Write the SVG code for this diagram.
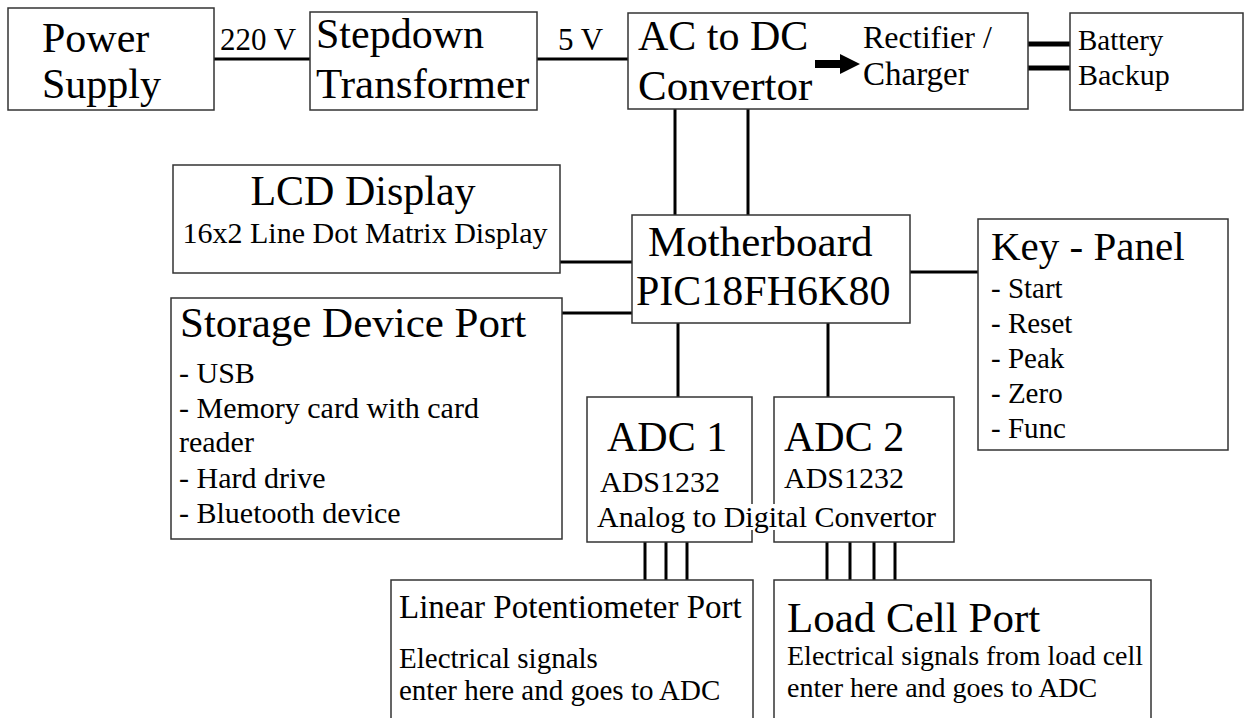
<svg xmlns="http://www.w3.org/2000/svg" width="1246" height="718" viewBox="0 0 1246 718">
<style>
.box{fill:#fff;stroke:#333;stroke-width:1.5}
text{font-family:"Liberation Serif","Times New Roman",serif;fill:#000}
.c{stroke:#000;stroke-width:3;fill:none}
.thick{stroke:#000;stroke-width:5;fill:none}
</style>
<rect width="1246" height="718" fill="#fff"/>
<g id="connectors">
<line class="c" x1="214" y1="59" x2="310" y2="59"/>
<line class="c" x1="537" y1="59" x2="628" y2="59"/>
<line class="thick" x1="1028" y1="44" x2="1070" y2="44"/>
<line class="thick" x1="1028" y1="68" x2="1070" y2="68"/>
<line class="c" x1="675" y1="109" x2="675" y2="215"/>
<line class="c" x1="748" y1="109" x2="748" y2="215"/>
<line class="c" x1="560" y1="262" x2="632" y2="262"/>
<line class="c" x1="562" y1="313" x2="632" y2="313"/>
<line class="c" x1="910" y1="272" x2="978" y2="272"/>
<line class="c" x1="678" y1="323" x2="678" y2="397"/>
<line class="c" x1="828" y1="323" x2="828" y2="397"/>
<line class="c" x1="645" y1="542" x2="645" y2="580"/>
<line class="c" x1="666" y1="542" x2="666" y2="580"/>
<line class="c" x1="687" y1="542" x2="687" y2="580"/>
<line class="c" x1="827" y1="542" x2="827" y2="580"/>
<line class="c" x1="850" y1="542" x2="850" y2="580"/>
<line class="c" x1="874" y1="542" x2="874" y2="580"/>
<line class="c" x1="895" y1="542" x2="895" y2="580"/>
</g>
<g id="label-220v"><text x="220" y="50" font-size="31">220 V</text></g>
<g id="label-5v"><text x="558" y="50" font-size="31">5 V</text></g>
<g id="power-supply">
<rect class="box" x="8" y="8" width="206" height="102"/>
<text x="42" y="52" font-size="42">Power</text>
<text x="42" y="98" font-size="42">Supply</text>
</g>
<g id="stepdown">
<rect class="box" x="310" y="12" width="227" height="98"/>
<text x="316" y="48" font-size="42">Stepdown</text>
<text x="316" y="98" font-size="43">Transformer</text>
</g>
<g id="acdc">
<rect class="box" x="628" y="13" width="400" height="96"/>
<text x="638" y="50" font-size="42">AC to DC</text>
<text x="638" y="100" font-size="43">Convertor</text>
<path d="M815 60 H840 V54 L860 64 L840 74 V68 H815 Z" fill="#000"/>
<text x="863" y="48" font-size="32">Rectifier /</text>
<text x="863" y="85" font-size="33">Charger</text>
</g>
<g id="battery">
<rect class="box" x="1070" y="13" width="173" height="97"/>
<text x="1078" y="50" font-size="29">Battery</text>
<text x="1078" y="85" font-size="30">Backup</text>
</g>
<g id="lcd">
<rect class="box" x="173" y="165" width="387" height="108"/>
<text x="363" y="205" font-size="42" text-anchor="middle">LCD Display</text>
<text x="365" y="243" font-size="30" text-anchor="middle">16x2 Line Dot Matrix Display</text>
</g>
<g id="motherboard">
<rect class="box" x="632" y="215" width="278" height="108"/>
<text x="648" y="256" font-size="43">Motherboard</text>
<text x="636" y="305" font-size="42">PIC18FH6K80</text>
</g>
<g id="keypanel">
<rect class="box" x="978" y="219" width="250" height="231"/>
<text x="991" y="260" font-size="41">Key - Panel</text>
<text x="991" y="298" font-size="29">- Start</text>
<text x="991" y="333" font-size="29">- Reset</text>
<text x="991" y="368" font-size="29">- Peak</text>
<text x="991" y="403" font-size="29">- Zero</text>
<text x="991" y="438" font-size="29">- Func</text>
</g>
<g id="storage">
<rect class="box" x="171" y="298" width="391" height="241"/>
<text x="180" y="337" font-size="43">Storage Device Port</text>
<text x="179" y="383" font-size="30">- USB</text>
<text x="179" y="418" font-size="30">- Memory card with card</text>
<text x="179" y="452" font-size="30">reader</text>
<text x="179" y="488" font-size="30">- Hard drive</text>
<text x="179" y="523" font-size="30">- Bluetooth device</text>
</g>
<g id="adc1">
<rect class="box" x="587" y="397" width="165" height="145"/>
<text x="607" y="451" font-size="42">ADC 1</text>
<text x="600" y="492" font-size="30">ADS1232</text>
</g>
<g id="adc2">
<rect class="box" x="774" y="397" width="180" height="145"/>
<text x="784" y="451" font-size="42">ADC 2</text>
<text x="784" y="488" font-size="30">ADS1232</text>
</g>
<g id="adc-label">
<rect x="594" y="504" width="346" height="26" fill="#fff"/>
<text x="597" y="527" font-size="30">Analog to Digital Convertor</text>
</g>
<g id="linpot">
<rect class="box" x="391" y="580" width="362" height="145"/>
<text x="399" y="618" font-size="33">Linear Potentiometer Port</text>
<text x="399" y="668" font-size="29">Electrical signals</text>
<text x="399" y="700" font-size="29">enter here and goes to ADC</text>
</g>
<g id="loadcell">
<rect class="box" x="774" y="580" width="377" height="145"/>
<text x="787" y="632" font-size="43">Load Cell Port</text>
<text x="787" y="665" font-size="28">Electrical signals from load cell</text>
<text x="787" y="697" font-size="28">enter here and goes to ADC</text>
</g>
</svg>
